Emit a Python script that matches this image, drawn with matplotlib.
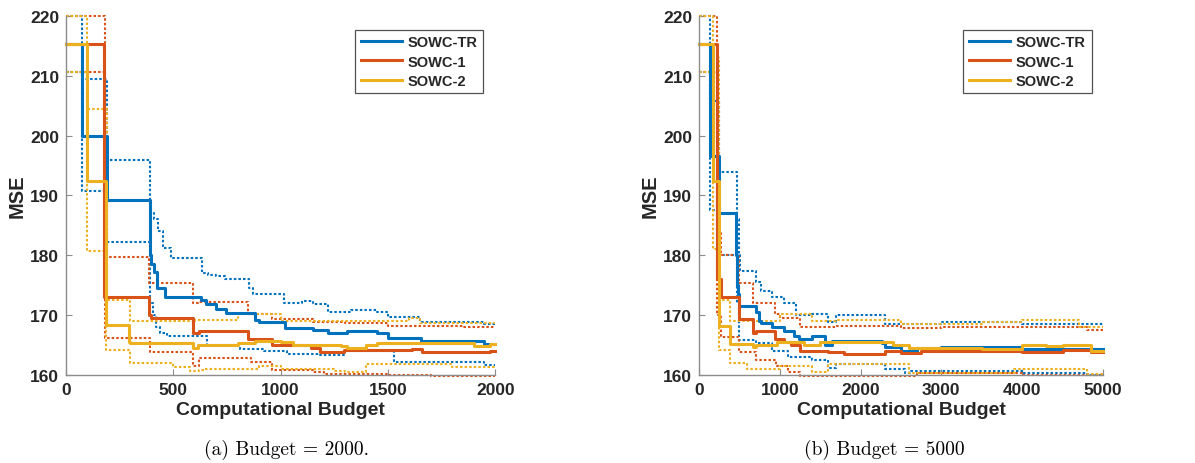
import matplotlib
matplotlib.use('Agg')
import matplotlib.pyplot as plt

# colours (MATLAB default order)
c_tr = '#0072BD'
c_1 = '#D95319'
c_2 = '#EDB120'

labels = ['SOWC-TR', 'SOWC-1', 'SOWC-2']

# ---- panel (a), budget = 2000 : (budget, MSE) step points ----
tr_mean_a = [(0, 215.3), (75, 200.0), (191, 189.2), (390, 180.0), (398, 178.6), (412, 177.2), (425, 174.5),
             (460, 173.0), (630, 172.5), (652, 171.8), (700, 171.0), (745, 170.4), (880, 169.2), (900, 168.8),
             (1020, 167.9), (1100, 167.8), (1150, 167.6), (1220, 167.0), (1310, 167.4), (1450, 167.0),
             (1500, 166.1), (1655, 165.7), (1950, 165.1), (2000, 165.1)]
tr_up_a = [(0, 220.0), (75, 209.5), (191, 196.0), (390, 187.0), (410, 186.0), (430, 184.0), (450, 181.3),
           (490, 179.5), (634, 177.0), (660, 176.7), (700, 176.5), (740, 176.0), (851, 174.5), (870, 173.5),
           (1014, 172.0), (1100, 172.3), (1150, 171.8), (1220, 170.5), (1330, 170.8), (1450, 170.5),
           (1500, 169.7), (1650, 168.9), (1950, 168.5), (2000, 168.5)]
tr_lo_a = [(0, 210.7), (75, 190.8), (191, 182.3), (390, 172.0), (405, 170.0), (420, 168.0), (440, 167.0),
           (470, 166.5), (657, 165.0), (810, 164.4), (921, 164.0), (1030, 163.5), (1185, 163.3), (1300, 164.0),
           (1527, 162.2), (1950, 161.6), (2000, 161.6)]

r1_mean_a = [(0, 215.3), (175, 173.0), (385, 170.0), (395, 169.5), (590, 167.0), (620, 167.4), (850, 166.0),
             (960, 165.0), (1140, 164.5), (1185, 163.8), (1294, 164.2), (1612, 164.4), (1660, 163.8),
             (1975, 164.0), (2000, 164.0)]
r1_up_a = [(0, 220.0), (180, 179.7), (385, 175.3), (590, 172.0), (615, 172.2), (850, 170.2), (960, 169.3),
           (1150, 168.8), (1300, 168.7), (1500, 168.2), (1850, 168.0), (2000, 168.0)]
r1_lo_a = [(0, 210.7), (180, 166.2), (390, 163.9), (590, 161.5), (620, 162.8), (860, 162.2), (960, 160.8),
           (1150, 160.5), (1200, 160.2), (1500, 160.0), (1700, 159.9), (2000, 159.9)]

r2_mean_a = [(0, 215.3), (100, 192.5), (188, 168.3), (292, 165.5), (300, 165.3), (590, 164.5), (615, 165.0),
             (800, 165.3), (880, 165.7), (1000, 165.5), (1060, 165.0), (1280, 164.8), (1310, 164.5),
             (1400, 165.0), (1450, 165.3), (1900, 164.8), (1975, 165.1), (2000, 165.1)]
r2_up_a = [(0, 220.0), (100, 204.5), (190, 172.5), (300, 169.0), (590, 168.8), (600, 169.2), (800, 170.2),
           (1000, 169.0), (1600, 169.5), (1650, 168.7), (2000, 168.7)]
r2_lo_a = [(0, 210.7), (100, 180.7), (188, 164.2), (300, 162.0), (500, 161.3), (580, 160.6), (620, 160.9),
           (650, 161.0), (900, 161.5), (1000, 161.0), (1250, 160.7), (1300, 160.5), (1400, 161.8),
           (1800, 161.4), (2000, 161.4)]

# ---- panel (b), budget = 5000 ----
tr_mean_b = [(0, 215.3), (135, 196.6), (244, 187.0), (455, 180.0), (470, 175.0), (485, 173.5), (500, 171.5),
             (709, 170.5), (745, 169.0), (764, 168.7), (909, 168.0), (1055, 167.3), (1180, 166.5),
             (1236, 166.0), (1400, 166.5), (1560, 165.0), (1650, 165.7), (2260, 165.3), (2300, 164.6),
             (2500, 164.0), (2700, 164.5), (3000, 164.7), (3300, 164.6), (4000, 164.3), (4800, 164.4),
             (5000, 164.4)]
tr_up_b = [(0, 220.0), (135, 205.8), (244, 194.0), (473, 186.0), (491, 180.0), (509, 177.3), (709, 175.5),
           (764, 174.0), (909, 173.0), (1055, 172.0), (1200, 170.0), (1400, 170.2), (1600, 168.8),
           (1700, 170.0), (2300, 168.6), (2600, 168.5), (3000, 168.8), (4000, 168.5), (5000, 168.5)]
tr_lo_b = [(0, 210.7), (135, 187.6), (244, 180.1), (473, 172.0), (491, 165.8), (709, 165.3), (900, 164.0),
           (1100, 163.0), (1400, 162.5), (1600, 161.2), (1700, 161.8), (2300, 161.0), (2550, 160.3),
           (2620, 160.7), (4000, 160.3), (4800, 160.0), (5000, 160.0)]

r1_mean_b = [(0, 215.3), (218, 176.0), (273, 173.0), (491, 169.4), (673, 167.0), (709, 167.4), (945, 166.0),
             (1055, 165.5), (1145, 165.0), (1250, 164.0), (1600, 163.8), (1800, 163.5), (2300, 164.0),
             (2500, 163.6), (2750, 164.0), (4000, 163.8), (4500, 164.2), (4850, 163.8), (5000, 163.8)]
r1_up_b = [(0, 220.0), (218, 184.0), (273, 180.0), (491, 175.3), (673, 172.0), (936, 170.2), (1000, 169.5),
           (1250, 168.0), (1700, 168.2), (2500, 167.8), (3000, 168.0), (4000, 168.1), (4800, 167.5),
           (5000, 167.5)]
r1_lo_b = [(0, 210.7), (218, 170.0), (273, 166.3), (491, 163.8), (709, 162.5), (950, 161.5), (1100, 160.5),
           (1250, 159.9), (2700, 160.3), (4000, 160.0), (5000, 160.0)]

r2_mean_b = [(0, 215.3), (171, 192.5), (244, 168.2), (389, 165.2), (673, 164.6), (709, 165.0), (960, 165.5),
             (1300, 165.0), (1500, 165.5), (2400, 165.0), (2600, 164.5), (3500, 164.3), (4000, 165.0),
             (4300, 164.8), (4500, 165.0), (4850, 164.0), (5000, 164.0)]
r2_up_b = [(0, 220.0), (171, 213.0), (244, 172.5), (389, 169.0), (1000, 170.2), (1400, 169.0), (1700, 169.2),
           (2500, 168.5), (3500, 168.8), (4000, 169.2), (4700, 168.0), (5000, 168.0)]
r2_lo_b = [(0, 210.7), (171, 181.0), (244, 164.1), (389, 162.0), (600, 161.0), (1000, 161.5), (1400, 160.5),
           (1600, 161.8), (2600, 160.4), (3900, 161.0), (4800, 160.2), (5000, 160.2)]

panels = [
    dict(pos=[0.0552, 0.1897, 0.3592, 0.7737], budget=2000, ticks=[0, 500, 1000, 1500, 2000],
         caption='(a) Budget = 2000.', cx=0.240,
         series=[(tr_mean_a, tr_up_a, tr_lo_a, c_tr), (r1_mean_a, r1_up_a, r1_lo_a, c_1),
                 (r2_mean_a, r2_up_a, r2_lo_a, c_2)]),
    dict(pos=[0.5849, 0.1897, 0.3381, 0.7737], budget=5000, ticks=[0, 1000, 2000, 3000, 4000, 5000],
         caption='(b) Budget = 5000', cx=0.740,
         series=[(tr_mean_b, tr_up_b, tr_lo_b, c_tr), (r1_mean_b, r1_up_b, r1_lo_b, c_1),
                 (r2_mean_b, r2_up_b, r2_lo_b, c_2)]),
]

fig = plt.figure(figsize=(11.95, 4.64), dpi=100)
grey = '#8c8c8c'
dark = '#262626'
sans = ['Liberation Sans', 'DejaVu Sans']

for p in panels:
    ax = fig.add_axes(p['pos'])
    # dotted bands first
    for mean, up, lo, col in p['series']:
        for band in (up, lo):
            ax.step([b[0] for b in band], [b[1] for b in band], where='post', color=col,
                    ls=(0, (1.2, 1.0)), lw=1.5, clip_on=False)
    handles = []
    for (mean, up, lo, col), lab in zip(p['series'], labels):
        h, = ax.step([m[0] for m in mean], [m[1] for m in mean], where='post', color=col,
                     lw=2.2, clip_on=False, label=lab)
        handles.append(h)

    ax.set_xlim(0, p['budget'])
    ax.set_ylim(160, 220)
    ax.set_xticks(p['ticks'])
    ax.set_yticks([160, 170, 180, 190, 200, 210, 220])
    for s in ['top', 'right']:
        ax.spines[s].set_visible(False)
    for s in ['left', 'bottom']:
        ax.spines[s].set_color(grey)
        ax.spines[s].set_linewidth(1.0)
    ax.tick_params(direction='in', length=4, color=grey, labelcolor=dark, pad=5)
    ax.tick_params(axis='x', pad=5)
    for t in ax.get_xticklabels() + ax.get_yticklabels():
        t.set_fontfamily(sans)
        t.set_fontweight('bold')
        t.set_fontsize(12.5)
    ax.set_xlabel('Computational Budget', fontsize=14, fontweight='bold', family=sans, color=dark, labelpad=3)
    ax.set_ylabel('MSE', fontsize=14.5, fontweight='bold', family=sans, color=dark, labelpad=2)

    leg = ax.legend(handles=handles, loc='upper right', bbox_to_anchor=(0.972, 0.962),
                    prop=dict(family=sans, weight='bold', size=10.5), frameon=True, fancybox=False,
                    handlelength=2.8, handletextpad=0.4, borderpad=0.4, labelspacing=0.35,
                    borderaxespad=0)
    leg.get_frame().set_edgecolor(dark)
    leg.get_frame().set_linewidth(0.9)
    for t in leg.get_texts():
        t.set_color(dark)

    fig.text(p['cx'], 0.03, p['caption'], ha='center', va='center', fontsize=14, family='cmr10')

fig.savefig('out.png', dpi=100)
